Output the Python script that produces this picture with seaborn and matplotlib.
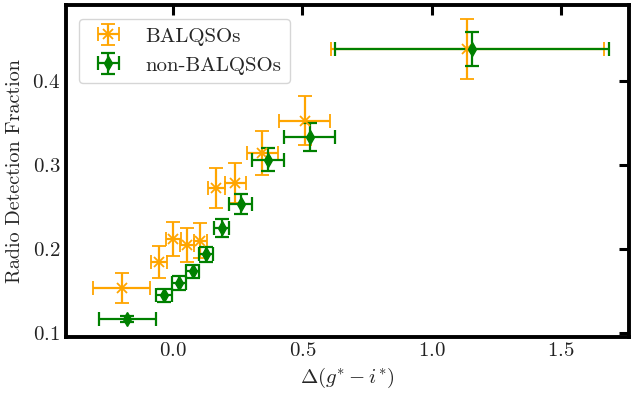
import numpy as np
import seaborn as sns
import matplotlib.pyplot as plt

# --- data ---
bal_x = [-0.198, -0.054, 0.001, 0.054, 0.106, 0.168, 0.2415, 0.346, 0.509, 1.139]
bal_y = [0.1536, 0.185, 0.212, 0.205, 0.210, 0.2726, 0.2786, 0.3143, 0.3527, 0.438]
bal_xerr = [0.11, 0.032, 0.028, 0.028, 0.026, 0.031, 0.042, 0.061, 0.099, 0.527]
bal_yerr = [0.0175, 0.019, 0.020, 0.020, 0.021, 0.0234, 0.0238, 0.026, 0.0288, 0.0355]

non_x = [-0.178, -0.035, 0.023, 0.076, 0.128, 0.1875, 0.262, 0.368, 0.528, 1.158]
non_y = [0.1167, 0.1448, 0.1595, 0.1734, 0.1936, 0.225, 0.2536, 0.3063, 0.3333, 0.438]
non_xerr = [0.11, 0.032, 0.026, 0.026, 0.028, 0.030, 0.044, 0.062, 0.099, 0.53]
non_yerr = [0.004, 0.008, 0.008, 0.008, 0.0085, 0.0103, 0.0115, 0.0135, 0.0165, 0.020]

sns.set_theme(style='white')
plt.rcParams['font.family'] = 'serif'
plt.rcParams['font.serif'] = ['cmr10']
plt.rcParams['mathtext.fontset'] = 'cm'
plt.rcParams['axes.formatter.use_mathtext'] = True
plt.rcParams['axes.unicode_minus'] = True

fig = plt.figure(figsize=(6.33, 3.95), dpi=100)
ax = fig.add_axes([0.104, 0.148, 0.89, 0.839])

ax.errorbar(bal_x, bal_y, xerr=bal_xerr, yerr=bal_yerr, fmt='x', color='orange',
            ms=7, mew=1.3, elinewidth=1.6, capsize=5, capthick=1.6, label='BALQSOs')
ax.errorbar(non_x, non_y, xerr=non_xerr, yerr=non_yerr, fmt='d', color='green',
            ms=7, elinewidth=1.6, capsize=5, capthick=1.6, label='non-BALQSOs')

ax.set_xlim(-0.415, 1.765)
ax.set_ylim(0.096, 0.49)
ax.set_xticks([0.0, 0.5, 1.0, 1.5])
ax.set_yticks([0.1, 0.2, 0.3, 0.4])

for s in ax.spines.values():
    s.set_linewidth(2.8)
    s.set_color('black')
ax.tick_params(direction='in', length=7.5, width=2.2, top=True, right=True,
               labelsize=15, colors='black', pad=4)
for lab in ax.get_xticklabels() + ax.get_yticklabels():
    lab.set_color('#222222')

ax.set_xlabel(r'$\Delta(g^{*}-i^{*})$', fontsize=15, labelpad=4)
ax.set_ylabel('Radio Detection Fraction', fontsize=14.5, labelpad=6)

ax.legend(loc='upper left', fontsize=15, frameon=True, framealpha=0.8,
          edgecolor='#cccccc', borderpad=0.4, handlelength=2.0,
          bbox_to_anchor=(0.005, 0.99))

fig.savefig('out.png', dpi=100)
